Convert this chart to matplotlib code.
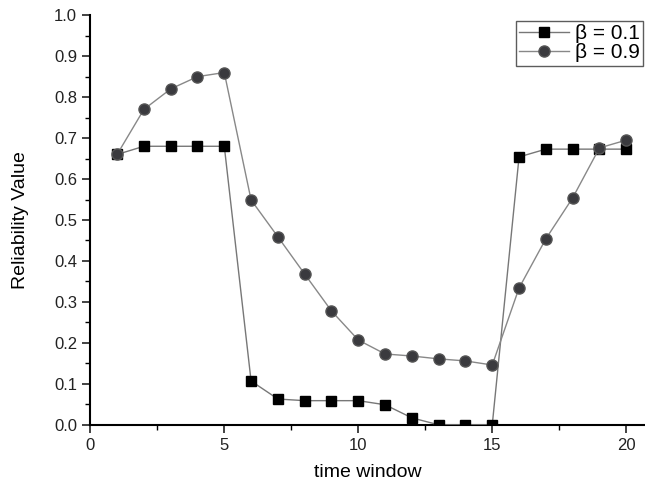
import matplotlib
matplotlib.use("Agg")
import matplotlib.pyplot as plt
from matplotlib.ticker import MultipleLocator

plt.rcParams["font.family"] = ["Liberation Sans", "DejaVu Sans"]

# data
windows = list(range(1, 21))
beta_01 = [0.66, 0.68, 0.68, 0.68, 0.68, 0.107, 0.063, 0.059, 0.059, 0.059,
           0.049, 0.017, 0.0, 0.0, 0.0, 0.654, 0.673, 0.673, 0.673, 0.673]
beta_09 = [0.66, 0.77, 0.82, 0.85, 0.86, 0.549, 0.459, 0.368, 0.278, 0.207,
           0.173, 0.168, 0.161, 0.156, 0.146, 0.334, 0.454, 0.554, 0.676, 0.695]

fig = plt.figure(figsize=(6.45, 4.9), dpi=100)
ax = fig.add_axes([0.14, 0.133, 0.86, 0.836])

ax.plot(windows, beta_01, color="#777777", lw=1.0, marker="s", ms=7,
        mfc="black", mec="black", label="β = 0.1", zorder=3)
ax.plot(windows, beta_09, color="#888888", lw=1.0, marker="o", ms=8,
        mfc="#3a3a3e", mec="#555555", label="β = 0.9", zorder=3)

ax.set_xlim(0, 20.7)
ax.set_ylim(0, 1.0)
ax.xaxis.set_major_locator(MultipleLocator(5))
ax.xaxis.set_minor_locator(MultipleLocator(2.5))
ax.yaxis.set_major_locator(MultipleLocator(0.1))
ax.yaxis.set_minor_locator(MultipleLocator(0.05))
ax.yaxis.set_major_formatter(matplotlib.ticker.FormatStrFormatter("%.1f"))
ax.tick_params(which="major", direction="out", length=6, width=1.2,
               labelsize=12, colors="#222222")
ax.tick_params(which="minor", direction="out", length=3.5, width=1.0)

ax.spines["top"].set_visible(False)
ax.spines["right"].set_visible(False)
ax.spines["left"].set_linewidth(1.5)
ax.spines["bottom"].set_linewidth(1.5)

ax.set_xlabel("time window", fontsize=14, labelpad=8)
ax.set_ylabel("Reliability Value", fontsize=14, labelpad=18)

leg = ax.legend(loc="upper right", bbox_to_anchor=(1.0, 0.99), fontsize=15,
                frameon=True, fancybox=False, edgecolor="#333333",
                borderpad=0.15, handlelength=2.4, handletextpad=0.3,
                labelspacing=0.0, borderaxespad=0.1)
leg.get_frame().set_linewidth(1.0)

fig.savefig("out.png", dpi=100)
